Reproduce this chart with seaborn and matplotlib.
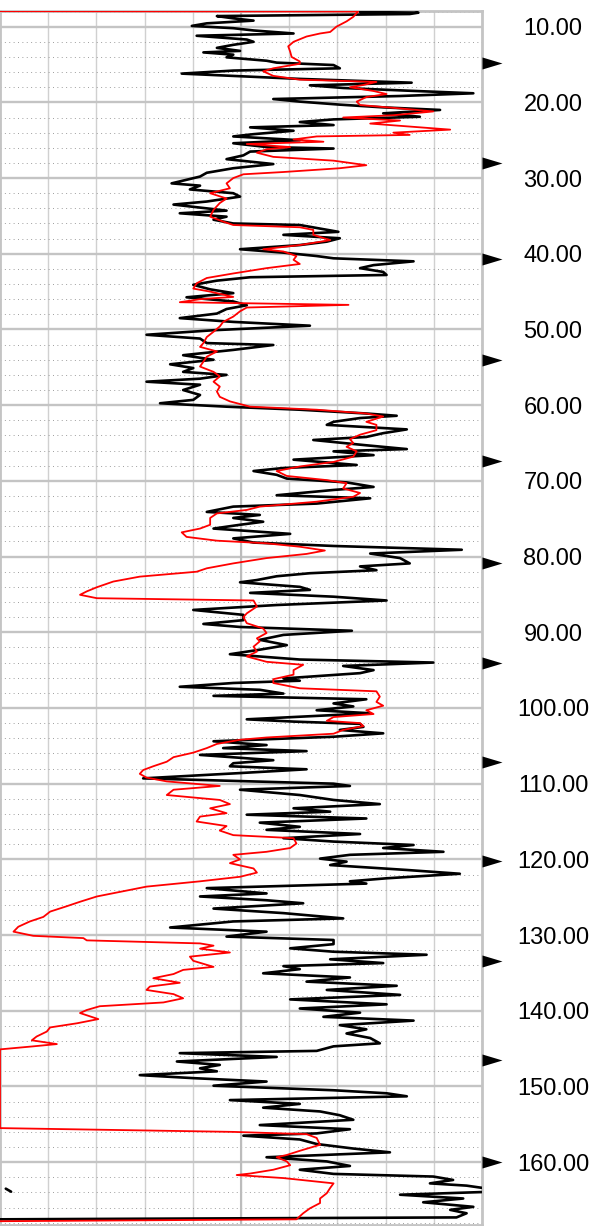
import matplotlib
matplotlib.use("Agg")
import matplotlib.pyplot as plt
import matplotlib.transforms as mtransforms
import numpy as np
import seaborn as sns

# depth track (top to bottom) for the black curve
black_depth = [
    8.06, 8.15, 8.33, 8.6, 8.9, 9.2, 9.56, 9.9, 10.2, 10.5, 10.9, 11.2, 11.7, 12.0, 12.4, 12.8,
    13.2, 13.4, 13.7, 14.05, 14.5, 14.75, 15.07, 15.5, 15.8, 16.2, 16.5, 16.9, 17.4, 17.75, 18.1,
    18.45, 18.8, 19.16, 19.56, 19.9, 20.3, 20.66, 21.0, 21.45, 21.9, 22.25, 22.6, 23.0, 23.3,
    23.75, 24.2, 24.5, 25.0, 25.4, 25.9, 26.1, 26.5, 27.0, 27.5, 28.15, 28.7, 29.3, 29.8, 30.7,
    31.0, 31.5, 32.0, 32.45, 33.1, 33.5, 33.9, 34.3, 34.65, 35.1, 35.5, 36.0, 36.2, 36.6, 37.1,
    37.5, 37.95, 38.4, 38.85, 39.4, 39.85, 40.3, 40.6, 41.0, 41.5, 41.9, 42.4, 42.8, 43.1, 43.55,
    44.1, 44.7, 45.2, 45.75, 46.3, 46.8, 47.3, 47.9, 48.5, 49.0, 49.5, 50.1, 50.7, 51.2, 51.8,
    52.05, 52.7, 53.4, 54.0, 54.6, 55.1, 55.6, 56.0, 56.5, 56.9, 57.3, 58.0, 58.65, 59.3, 59.75,
    60.2, 60.6, 61.1, 61.4, 61.7, 62.2, 62.6, 63.2, 63.7, 64.2, 64.6, 65.3, 65.8, 66.1, 66.6,
    67.2, 67.9, 68.3, 68.7, 69.2, 69.7, 70.2, 70.8, 71.2, 71.9, 72.3, 73.0, 73.4, 74.1, 74.5,
    74.9, 75.4, 75.8, 76.3, 77.0, 77.6, 78.15, 78.6, 79.1, 79.6, 80.2, 80.9, 81.3, 81.8, 82.2,
    82.6, 83.1, 83.4, 84.0, 84.4, 84.8, 85.3, 85.8, 86.4, 87.05, 87.7, 88.4, 88.9, 89.3, 89.8,
    90.35, 91.0, 91.7, 92.3, 92.9, 93.6, 94.0, 94.45, 95.0, 95.4, 96.1, 96.4, 96.7, 97.2, 97.6,
    98.1, 98.4, 98.85, 99.4, 99.8, 100.3, 100.7, 101.5, 101.8, 102.1, 102.5, 102.9, 103.35,
    103.8, 104.4, 104.9, 105.3, 105.7, 106.2, 106.9, 107.3, 107.7, 108.1, 108.6, 109.3, 110.0,
    110.3, 110.8, 111.5, 112.15, 112.7, 113.25, 113.7, 114.1, 114.6, 115.15, 115.7, 116.1,
    116.65, 117.2, 117.65, 118.1, 118.5, 119.0, 119.4, 119.9, 120.3, 120.75, 121.4, 121.9,
    122.5, 122.9, 123.2, 123.8, 124.5, 124.9, 125.4, 125.8, 126.5, 127.1, 127.8, 128.2, 129.0,
    129.55, 130.2, 130.65, 131.2, 131.75, 132.2, 132.6, 133.2, 133.7, 134.1, 134.5, 135.05,
    135.6, 136.15, 136.7, 137.25, 137.9, 138.5, 139.15, 139.7, 140.25, 140.8, 141.3, 141.9,
    142.45, 143.0, 143.6, 144.3, 144.7, 145.3, 145.6, 146.1, 146.7, 147.15, 147.6, 148.0, 148.5,
    148.9, 149.35, 149.9, 150.5, 150.9, 151.3, 151.8, 152.3, 152.8, 153.3, 153.8, 154.4, 155.1,
    155.65, 156.2, 156.5, 157.0, 157.6, 158.2, 158.7, 159.35, 159.9, 160.5, 161.0, 161.55,
    161.9, 162.35, 162.8, 163.1, 163.5, 163.9, 164.3, 164.8, 165.3, 165.9, 166.3, 166.75,
    167.3, 167.55,
]
black_value = [
    74.7, 86.8, 85.0, 45.0, 48.4, 52.6, 42.9, 39.8, 48.4, 52.6, 60.9, 40.8, 51.2, 52.6, 48.4, 45.0,
    49.8, 42.2, 48.4, 47.0, 55.3, 57.4, 69.2, 70.5, 48.4, 37.7, 48.4, 62.2, 85.4, 64.3, 71.2,
    84.4, 98.2, 83.0, 56.7, 62.2, 70.5, 79.5, 91.3, 79.5, 87.1, 69.2, 62.2, 69.2, 51.9,
    60.9, 52.6, 48.4, 62.2, 48.4, 55.3, 69.2, 51.9, 50.5, 47.0, 56.7, 48.4, 42.9, 41.5, 35.6,
    41.5, 39.4, 48.4, 49.8, 42.9, 36.0, 41.5, 47.0, 37.3, 47.0, 44.3, 48.4, 62.2, 65.7, 70.2,
    58.8, 70.5, 67.8, 62.2, 49.8, 58.8, 65.7, 69.2, 85.8, 77.5, 74.7, 79.5, 80.2, 51.9, 45.0,
    40.1, 43.6, 48.4, 38.7, 48.4, 51.2, 47.0, 45.0, 37.3, 48.4, 64.3, 44.3, 30.4, 41.5, 42.9,
    56.7, 48.4, 38.0, 44.3, 35.3, 40.1, 38.0, 47.0, 41.5, 30.4, 41.5, 38.0, 41.5, 40.1, 33.2,
    47.0, 62.2, 76.0, 82.3, 74.7, 69.2, 67.8, 84.4, 79.5, 76.0, 65.0, 76.0, 84.4, 69.2, 77.5,
    60.9, 74.0, 58.8, 52.6, 57.4, 59.5, 71.9, 77.5, 69.2, 57.4, 76.8, 65.7, 48.4, 42.9, 53.9,
    48.4, 54.6, 49.8, 44.3, 60.2, 48.4, 52.6, 69.2, 95.8, 76.8, 83.0, 85.0, 74.7, 78.1, 64.3,
    57.4, 53.3, 49.8, 62.2, 64.3, 51.9, 69.2, 80.2, 57.4, 40.1, 50.5, 50.5, 42.2, 49.8, 73.0,
    58.8, 53.9, 59.5, 53.9, 47.7, 62.2, 89.9, 71.2, 77.5, 74.7, 58.8, 62.2, 48.4, 37.3, 53.9,
    58.8, 44.3, 76.0, 69.2, 73.3, 65.7, 76.8, 51.2, 60.9, 74.7, 75.4, 70.5, 79.5,
    69.2, 44.3, 55.3, 46.3, 63.6, 41.5, 56.7, 48.4, 47.7, 63.6, 49.8, 29.7, 69.2,
    72.6, 49.8, 62.2, 69.2, 78.8, 60.9, 68.5, 51.2, 76.0, 53.9, 62.2, 55.3,
    74.7, 58.8, 69.2, 85.8, 79.5, 92.0, 72.6, 66.4, 71.9, 68.5, 84.4, 95.4,
    80.2, 72.6, 76.0, 42.9, 55.3, 41.5, 55.3, 62.9, 44.3, 58.8, 71.2, 48.4, 35.3,
    55.3, 47.0, 69.2, 69.2, 60.2, 69.2, 88.5, 68.5, 79.5, 58.8, 62.2, 54.6,
    72.6, 63.6, 82.3, 67.8, 83.0, 60.2, 80.2, 62.2, 74.7, 67.1, 85.8, 70.5,
    76.0, 71.9, 76.8, 78.8, 69.2, 65.7, 37.3, 57.4, 36.7, 45.6, 41.5, 45.0, 29.0,
    40.1, 55.3, 44.3, 69.2, 80.2, 84.4, 47.7, 62.2, 54.6, 66.4, 70.5, 73.3, 53.9,
    72.6, 65.7, 50.5, 62.2, 65.7, 73.3, 80.9, 55.3, 67.8, 72.6, 62.2, 69.2,
    89.9, 94.0, 89.2, 96.8, 101.2, 102.3, 83.0, 96.1, 87.8, 98.2, 93.4, 96.8,
    94.7, 0.0,
]

# red curve
red_depth = [
    7.95, 8.0, 8.7, 9.3, 10.0, 10.7, 10.9, 11.3, 12.0, 12.6, 13.3, 14.0, 14.6, 14.9, 15.5, 15.9,
    16.5, 17.0, 17.3, 17.7, 18.0, 18.5, 18.9, 19.3, 19.9, 20.35, 20.8, 21.2, 21.7, 22.0, 22.4,
    22.8, 23.1, 23.6, 24.0, 24.3, 24.5, 24.9, 25.2, 25.5, 25.9, 26.2, 26.65, 27.2, 27.7, 28.3,
    28.7, 29.2, 29.5, 30.0, 30.7, 31.35, 32.0, 32.7, 33.3, 34.2, 35.1, 35.75, 36.2, 36.5, 36.85,
    37.5, 38.2, 38.85, 39.4, 39.7, 40.3, 40.8, 41.35, 41.9, 42.6, 43.2, 43.9, 44.6, 45.0, 45.7,
    46.0, 46.4, 46.75, 47.1, 47.6, 48.3, 49.0, 49.6, 50.3, 51.0, 51.8, 52.3, 52.9, 53.6, 54.25,
    54.9, 55.6, 56.2, 56.9, 57.55, 58.2, 58.9, 59.5, 60.2, 60.6, 61.1, 61.5, 62.2, 62.6, 63.3,
    63.9, 64.5, 65.0, 65.5, 66.1, 66.8, 67.5, 68.1, 68.7, 69.35, 69.9, 70.3, 71.0, 71.6, 72.1,
    72.75, 73.4, 73.84, 74.3, 74.9, 75.8, 76.3, 76.8, 77.4, 77.9, 78.25, 78.7, 79.2, 79.65,
    80.2, 80.9, 81.55, 82.0, 82.65, 83.3, 84.05, 84.6, 85.05, 85.5, 85.8, 86.6, 87.5, 88.0,
    88.8, 89.5, 90.1, 90.8, 91.2, 91.9, 92.55, 93.2, 93.9, 94.3, 95.0, 95.6, 96.2, 96.7, 97.4,
    97.8, 98.5, 99.2, 99.7, 100.3, 100.8, 101.2, 101.7, 102.0, 102.4, 102.9, 103.4, 103.9,
    104.2, 104.75, 105.3, 105.9, 106.5, 107.1, 107.7, 108.2, 108.7, 109.2, 109.7, 110.3, 110.8,
    111.5, 112.15, 112.7, 113.25, 113.9, 114.35, 115.0, 115.6, 116.2, 116.8, 117.2, 117.9,
    118.5, 119.0, 119.4, 120.0, 120.5, 121.2, 121.75, 122.3, 122.9, 123.6, 124.3, 124.9, 125.6,
    126.2, 126.9, 127.6, 128.2, 128.9, 129.55, 130.1, 130.4, 130.7, 131.1, 131.4, 131.8, 132.3,
    132.85, 133.4, 134.2, 134.6, 135.15, 135.7, 136.3, 136.8, 137.25, 137.8, 138.35, 138.9,
    139.4, 139.9, 140.3, 141.1, 141.65, 142.2, 142.75, 143.4, 143.9, 144.4, 144.7, 145.1,
    155.5, 156.0, 156.3, 156.8, 157.7, 158.5, 159.05, 159.35, 159.9, 160.4, 161.0, 161.5, 161.7,
    162.1, 162.8, 163.4, 164.1, 164.8, 165.4, 166.1, 166.75, 167.55, 167.8,
]
red_value = [
    0.0, 74.3, 73.3, 71.9, 69.8, 68.5, 66.4, 63.6, 60.9, 59.8, 60.2, 60.5, 62.2, 62.2, 56.7, 54.6,
    56.7, 62.2, 78.1, 75.4, 72.6, 77.5, 80.2, 76.0, 74.0, 74.7, 83.0, 89.9, 81.6, 71.2, 83.0,
    76.8, 83.0, 93.4, 81.6, 85.0, 65.7, 60.9, 67.1, 51.2, 60.2, 55.3, 53.3, 56.7, 69.2, 76.0,
    70.5, 58.8, 50.5, 48.4, 47.0, 47.7, 43.6, 47.0, 45.6, 44.3, 43.6, 46.3, 48.4, 62.2, 65.0,
    65.0, 68.5, 62.2, 54.6, 58.8, 61.5, 60.9, 62.2, 55.3, 48.4, 42.9, 40.8, 40.1, 43.6, 48.4,
    41.5, 37.3, 72.3, 51.2, 49.8, 48.4, 46.3, 45.6, 44.3, 42.9, 42.2, 41.5, 45.0, 42.9, 42.2,
    41.5, 44.3, 45.6, 44.3, 45.6, 45.0, 45.6, 47.7, 51.9, 65.7, 76.0, 79.5, 76.0, 78.1, 78.1,
    74.7, 72.6, 73.3, 71.9, 74.0, 73.3, 69.2, 62.2, 57.4, 59.5, 67.8, 71.9, 71.2, 74.7, 73.3,
    65.7, 53.9, 51.2, 45.0, 43.6, 43.6, 41.5, 37.7, 38.7, 45.0, 55.3, 62.2, 67.4, 63.6,
    55.3, 48.4, 42.9, 40.8, 29.0, 23.5, 20.1, 18.0, 16.6, 20.1, 52.6, 53.3, 51.2, 50.5,
    51.2, 54.6, 55.3, 53.3, 53.9, 52.6, 53.3, 51.2, 55.3, 62.9, 60.9, 60.9, 56.7, 56.7, 62.2,
    78.1, 78.8, 78.1, 79.5, 76.0, 77.5, 69.2, 67.8, 74.7, 75.4, 71.2, 69.2, 55.3,
    49.8, 45.0, 42.9, 40.1, 36.0, 34.6, 31.8, 29.7, 29.0, 30.4, 34.6, 45.6, 36.0,
    34.6, 45.6, 47.7, 43.6, 47.0, 41.5, 40.8, 47.0, 45.6, 48.4, 60.9, 61.5,
    60.2, 55.3, 48.4, 49.8, 47.7, 52.6, 53.3, 49.8, 41.5, 30.4, 24.9, 20.1, 16.6,
    13.8, 10.4, 9.0, 6.2, 3.8, 2.8, 6.9, 17.3, 18.0, 41.5, 44.3, 41.5, 47.7,
    39.4, 40.1, 44.3, 38.0, 36.0, 31.8, 37.3, 31.1, 30.4, 36.0, 38.0, 33.9,
    20.7, 18.0, 16.6, 20.4, 16.0, 10.4, 9.7, 7.6, 6.6, 11.8, 6.9, 0.0,
    0.0, 48.4, 63.6, 65.7, 66.4, 62.2, 59.5, 57.4, 59.5, 60.2, 56.7, 51.9, 49.1,
    58.8, 69.2, 68.5, 67.8, 66.4, 66.4, 64.3, 62.9, 61.5, 0.0,
]

label_depth = [10, 20, 30, 40, 50, 60, 70, 80, 90, 100, 110, 120, 130, 140, 150, 160]
marker_depth = [14.85, 27.95, 40.75, 54.0, 67.4, 80.8, 94.0, 107.1, 120.2, 133.4, 146.5, 160.0]

sns.set_theme(style="white")
plt.rcParams["font.family"] = ["Liberation Sans", "DejaVu Sans"]

fig = plt.figure(figsize=(5.92, 12.26), dpi=100)
ax = fig.add_axes([0, 1 / 1226, 482 / 592, 1214 / 1226])

ax.set_xlim(0, 100)
ax.set_ylim(168.3, 7.93)

# grid: vertical every 10, solid depth lines every 10, dotted every 2
ax.set_xticks(np.arange(0, 101, 10))
ax.set_yticks(label_depth)
ax.set_yticks(np.arange(8, 169, 2), minor=True)
ax.grid(True, which="major", axis="x", color="#d0d0d0", lw=1.0)
ax.grid(True, which="major", axis="y", color="#c4c4c4", lw=1.7)
ax.grid(True, which="minor", axis="y", color="#9e9e9e", lw=0.7, linestyle=(0, (1, 3.5)))
ax.axvline(50, color="#bcbcbc", lw=1.5, zorder=0.8)
ax.set_axisbelow(True)
ax.tick_params(which="both", length=0, labelleft=False, labelbottom=False)
for sp in ax.spines.values():
    sp.set_color("#c4c4c4")
    sp.set_linewidth(2.0)

black_depth = np.array(black_depth)
black_value = np.array(black_value)

sns.lineplot(x=black_value, y=black_depth, sort=False, estimator=None, orient="y",
             color="black", lw=1.9, zorder=3, ax=ax)
# values past the right edge wrap around to the left
wrap = black_value > 100
sns.lineplot(x=black_value[wrap] - 100, y=black_depth[wrap], sort=False, estimator=None,
             orient="y", color="black", lw=1.9, zorder=3, ax=ax)
sns.lineplot(x=red_value, y=red_depth, sort=False, estimator=None, orient="y",
             color="red", lw=1.3, zorder=3.5, ax=ax)

arrow = [(0, -0.3), (1, 0), (0, 0.3), (0, -0.3)]
sns.scatterplot(x=np.full(len(marker_depth), 100.0), y=marker_depth, marker=arrow, s=830,
                color="black", linewidth=0, clip_on=False, zorder=5, ax=ax)

trans = mtransforms.blended_transform_factory(ax.transAxes, ax.transData)
for d in label_depth:
    ax.text(553 / 482, d, f"{d:.2f}", ha="center", va="center_baseline",
            fontsize=17, color="black", transform=trans)

ax.set_xlabel("")
ax.set_ylabel("")
fig.savefig("out.png", dpi=100)
